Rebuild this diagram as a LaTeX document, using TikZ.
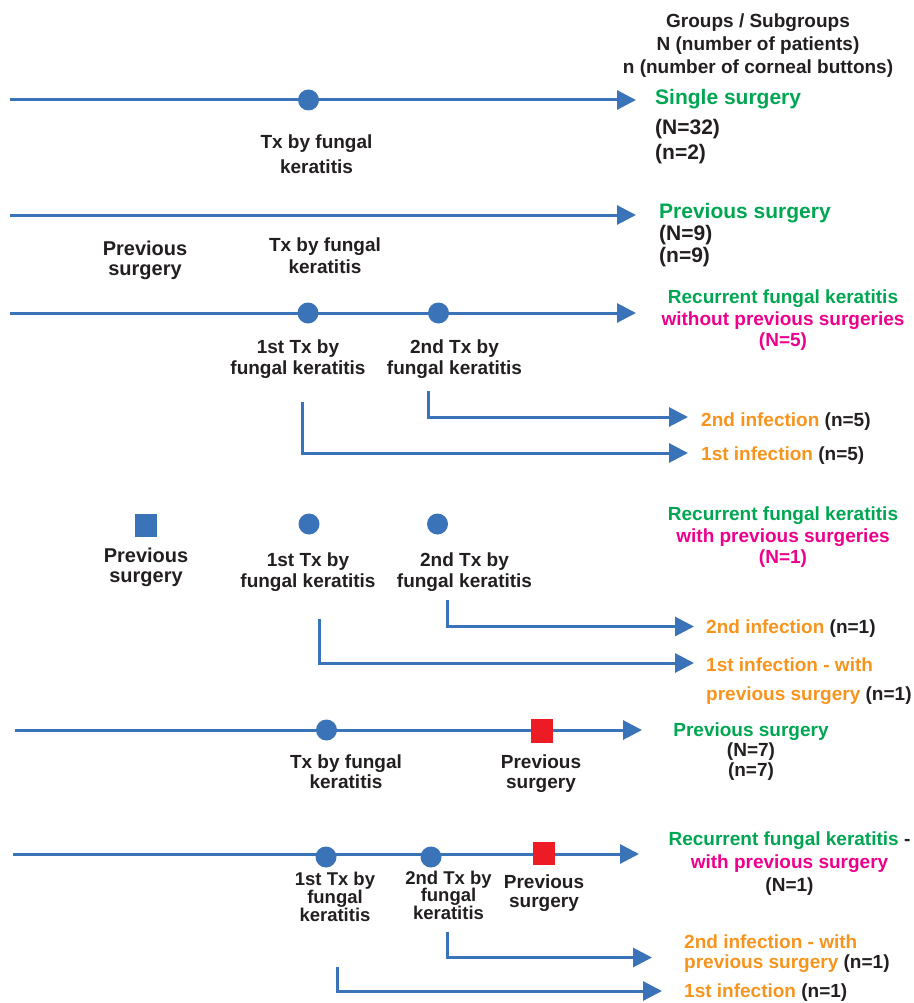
\documentclass[tikz,border=0pt]{standalone}
\usepackage{fontspec}
\setmainfont{Liberation Sans}
\usetikzlibrary{arrows.meta}
\definecolor{tlblue}{HTML}{3B73B9}
\definecolor{tlgreen}{HTML}{00A651}
\definecolor{tlpink}{HTML}{EC008C}
\definecolor{tlorange}{HTML}{F7941D}
\definecolor{tlred}{HTML}{ED1C24}
\definecolor{ink}{HTML}{231F20}
\newcommand{\fsz}[2]{\bfseries\fontsize{#1}{#2}\selectfont}
\tikzset{
  tline/.style={draw=tlblue, line width=3pt, ->},
  evt/.style={circle, fill=tlblue, minimum size=21pt, inner sep=0pt},
  sqr/.style={rectangle, fill=#1, minimum width=22pt, minimum height=23pt, inner sep=0pt},
  sqr/.default=tlblue,
  lbl/.style={inner sep=0pt, anchor=north, align=center, text=ink, font={\fsz{19}{20.5}}},
  res/.style={inner sep=0pt, anchor=north west, align=left, text=ink, font={\fsz{21}{22}}},
  inf/.style={inner sep=0pt, anchor=base west, align=left, text=tlorange, font={\fsz{19}{20}}}
}
\begin{document}
\begin{tikzpicture}[>={Triangle[length=19pt,width=19pt]}, x=1pt, y=-1pt]
\useasboundingbox (0,0) rectangle (913,1003);
% Cabecalho
\node[lbl, font={\fsz{19}{22.7}}] (head) at (758,14) {Groups / Subgroups\\N (number of patients)\\n (number of corneal buttons)};

% Grupo 1 - cirurgia unica
\coordinate (g1s) at (10,100);
\coordinate (g1e) at (636,100);
\draw[tline] (g1s) -- (g1e);
\node[evt] (g1tx) at (308.5,100) {};
\node[lbl, font={\fsz{19}{24.5}}] (g1txl) at (316.5,135) {Tx by fungal\\keratitis};
\node[res, font={\fsz{21}{25}}] (g1r) at (655,89.5) {\textcolor{tlgreen}{Single surgery}\\[4.5pt](N=32)\\(n=2)};

% Grupo 2 - cirurgia previa
\coordinate (g2s) at (10,215);
\coordinate (g2e) at (636,215);
\draw[tline] (g2s) -- (g2e);
\node[lbl, font={\fsz{20}{19.5}}] (g2psl) at (145,241) {Previous\\surgery};
\node[lbl, font={\fsz{19}{22}}] (g2txl) at (325,238) {Tx by fungal\\keratitis};
\node[res] (g2r) at (659,203.5) {\textcolor{tlgreen}{Previous surgery}\\(N=9)\\(n=9)};

% Grupo 3 - recorrente sem cirurgia previa
\coordinate (g3s) at (10,313);
\coordinate (g3e) at (636,313);
\draw[tline] (g3s) -- (g3e);
\node[evt] (g3t1) at (308,313) {};
\node[evt] (g3t2) at (438.5,313) {};
\node[lbl] (g3t1l) at (298,340) {1st Tx by\\fungal keratitis};
\node[lbl] (g3t2l) at (454.5,340) {2nd Tx by\\fungal keratitis};
\node[lbl, font={\fsz{19}{21.5}}] (g3r) at (783,290) {\textcolor{tlgreen}{Recurrent fungal keratitis}\\\textcolor{tlpink}{without previous surgeries}\\\textcolor{tlpink}{(N=5)}};
\coordinate (g3b2s) at (428.5,391);
\coordinate (g3b2e) at (688,417);
\draw[tline] (g3b2s) |- (g3b2e);
\node[inf] (g3i2) at (701,426) {2nd infection \textcolor{ink}{(n=5)}};
\coordinate (g3b1s) at (302,402);
\coordinate (g3b1e) at (688,453);
\draw[tline] (g3b1s) |- (g3b1e);
\node[inf] (g3i1) at (701,460) {1st infection \textcolor{ink}{(n=5)}};

% Grupo 4 - recorrente com cirurgias previas
\node[sqr] (g4ps) at (145.5,525.5) {};
\node[evt] (g4t1) at (309,524) {};
\node[evt] (g4t2) at (437.5,524) {};
\node[lbl, font={\fsz{20}{20}}] (g4psl) at (146,548) {Previous\\surgery};
\node[lbl] (g4t1l) at (308,553) {1st Tx by\\fungal keratitis};
\node[lbl] (g4t2l) at (464.5,553) {2nd Tx by\\fungal keratitis};
\node[lbl, font={\fsz{19}{21.7}}] (g4r) at (783,506.5) {\textcolor{tlgreen}{Recurrent fungal keratitis}\\\textcolor{tlpink}{with previous surgeries}\\\textcolor{tlpink}{(N=1)}};
\coordinate (g4b2s) at (447,600);
\coordinate (g4b2e) at (694,626.5);
\draw[tline] (g4b2s) |- (g4b2e);
\node[inf] (g4i2) at (706,633) {2nd infection \textcolor{ink}{(n=1)}};
\coordinate (g4b1s) at (319.5,619);
\coordinate (g4b1e) at (694,663);
\draw[tline] (g4b1s) |- (g4b1e);
\node[inf, anchor=north west, font={\fsz{19}{29}}] (g4i1) at (706,658) {1st infection - with\\previous surgery \textcolor{ink}{(n=1)}};

% Grupo 5 - cirurgia posterior
\coordinate (g5s) at (14.5,730);
\coordinate (g5e) at (642,730);
\draw[tline] (g5s) -- (g5e);
\node[evt] (g5tx) at (326.5,730) {};
\node[sqr=tlred, minimum height=24pt] (g5ps) at (542,731) {};
\node[lbl, font={\fsz{19}{20}}] (g5txl) at (346,755) {Tx by fungal\\keratitis};
\node[lbl, font={\fsz{19}{20}}] (g5psl) at (541,755) {Previous\\surgery};
\node[lbl, font={\fsz{19}{20}}] (g5r) at (751,723) {\textcolor{tlgreen}{Previous surgery}\\(N=7)\\(n=7)};

% Grupo 6 - recorrente com cirurgia posterior
\coordinate (g6s) at (13,854);
\coordinate (g6e) at (639,854);
\draw[tline] (g6s) -- (g6e);
\node[evt] (g6t1) at (326,857) {};
\node[evt] (g6t2) at (431,857) {};
\node[sqr=tlred] (g6ps) at (543.5,853) {};
\node[lbl, font={\fsz{18.5}{17.8}}] (g6t1l) at (335,872) {1st Tx by\\fungal\\keratitis};
\node[lbl, font={\fsz{18.5}{17.8}}] (g6t2l) at (448.5,870.5) {2nd Tx by\\fungal\\keratitis};
\node[lbl, font={\fsz{19}{19}}] (g6psl) at (544,875) {Previous\\surgery};
\node[lbl, font={\fsz{19}{23}}] (g6r) at (789.5,831.5) {\textcolor{tlgreen}{Recurrent fungal keratitis} -\\\textcolor{tlpink}{with previous surgery}\\(N=1)};
\coordinate (g6b2s) at (447,932);
\coordinate (g6b2e) at (652,957.5);
\draw[tline] (g6b2s) |- (g6b2e);
\node[inf, anchor=north west] (g6i2) at (684,935) {2nd infection - with\\previous surgery \textcolor{ink}{(n=1)}};
\coordinate (g6b1s) at (337,967);
\coordinate (g6b1e) at (662,991);
\draw[tline] (g6b1s) |- (g6b1e);
\node[inf] (g6i1) at (684,997) {1st infection \textcolor{ink}{(n=1)}};
\end{tikzpicture}
\end{document}
